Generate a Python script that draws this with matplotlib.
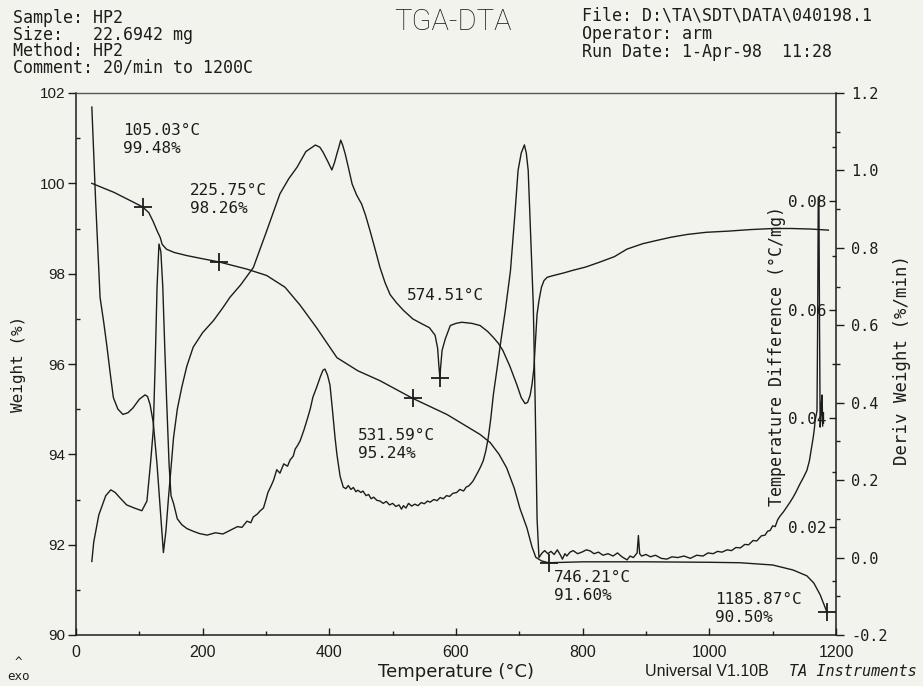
import matplotlib
matplotlib.use('Agg')
import matplotlib.pyplot as plt
from matplotlib.ticker import MultipleLocator, FixedLocator, FormatStrFormatter

# ---------------- data ----------------
# TGA weight curve (left axis, %)
weight_T = [25, 60, 105.03, 115, 122, 128, 133, 136, 143, 155,
            175, 200, 225.75, 270, 301, 330, 354, 380, 412, 445,
            480, 531.59, 586, 638, 654, 668, 680, 692, 701, 712,
            720, 726, 735, 746.21, 800, 900, 1000, 1048, 1100, 1132,
            1154, 1165, 1175, 1185.87]
weight_pct = [100.0, 99.8, 99.48, 99.35, 99.15, 98.95, 98.8, 98.65, 98.54, 98.47,
              98.4, 98.33, 98.26, 98.1, 97.96, 97.7, 97.3, 96.8, 96.14, 95.85,
              95.63, 95.24, 94.88, 94.44, 94.26, 94.0, 93.7, 93.25, 92.8, 92.37,
              91.95, 91.72, 91.64, 91.60, 91.62, 91.62, 91.61, 91.60, 91.55, 91.44,
              91.31, 91.15, 90.89, 90.50]

# DTA curve (inner right axis, degC/mg)
dta_T = [25, 31, 38, 44, 49, 54, 59, 66, 74, 82,
         90, 100, 109, 113, 117, 122, 128, 133, 138, 142,
         146, 150, 154, 160, 167, 175, 185, 200, 217, 232,
         243, 260, 280, 300, 322, 336, 349, 363, 378, 385,
         390, 397, 404, 408, 412, 415, 418, 421, 425, 430,
         436, 443, 451, 457, 464, 472, 480, 488, 496, 506,
         517, 532, 548, 558, 567, 571, 573, 574.5, 576, 578,
         583, 591, 600, 609, 625, 638, 650, 659, 667, 674,
         685, 696, 703, 709, 713, 717, 720, 723, 725, 728,
         731, 735, 739, 744, 753, 770, 785, 805, 827, 850,
         870, 895, 917, 940, 965, 995, 1028, 1065, 1101, 1130,
         1160, 1188]
dta_val = [0.0974, 0.0800, 0.0623, 0.0575, 0.0531, 0.0483, 0.0438, 0.0417, 0.0407, 0.0410,
           0.0419, 0.0435, 0.0443, 0.0440, 0.0425, 0.0392, 0.0314, 0.0233, 0.0152, 0.0192,
           0.0253, 0.0308, 0.0364, 0.0417, 0.0457, 0.0496, 0.0531, 0.0558, 0.0580, 0.0604,
           0.0623, 0.0646, 0.0678, 0.0742, 0.0814, 0.0842, 0.0863, 0.0892, 0.0904, 0.0900,
           0.0891, 0.0875, 0.0858, 0.0871, 0.0888, 0.0900, 0.0913, 0.0904, 0.0888, 0.0863,
           0.0832, 0.0812, 0.0795, 0.0775, 0.0747, 0.0713, 0.0678, 0.0650, 0.0628, 0.0613,
           0.0599, 0.0583, 0.0573, 0.0567, 0.0553, 0.0529, 0.0496, 0.0475, 0.0498, 0.0525,
           0.0546, 0.0571, 0.0575, 0.0577, 0.0575, 0.0571, 0.0560, 0.0549, 0.0538, 0.0525,
           0.0496, 0.0462, 0.0438, 0.0427, 0.0429, 0.0442, 0.0462, 0.0492, 0.0533, 0.0592,
           0.0617, 0.0642, 0.0654, 0.0660, 0.0663, 0.0668, 0.0673, 0.0679, 0.0688, 0.0698,
           0.0712, 0.0722, 0.0728, 0.0734, 0.0739, 0.0743, 0.0745, 0.0748, 0.0750, 0.0750,
           0.0749, 0.0747]

# Derivative weight curve (outer right axis, %/min)
deriv_T = [25, 28, 36, 47, 55, 62, 69, 80, 92, 104,
           112, 118, 122, 125, 128, 131, 134, 137, 140, 143,
           147, 150, 154, 160, 167, 175, 185, 195, 207, 220,
           232, 243, 255, 262, 270, 276, 280, 286, 291, 296,
           300, 303, 308, 312, 317, 322, 328, 334, 338, 343,
           346, 350, 354, 360, 366, 370, 374, 380, 386, 390,
           393, 397, 401, 405, 409, 412, 417, 422, 426, 430,
           434, 438, 442, 445, 450, 453, 458, 462, 466, 470,
           475, 480, 485, 490, 495, 500, 505, 510, 514, 517,
           521, 525, 530, 535, 540, 545, 550, 555, 559, 565,
           570, 575, 580, 585, 590, 595, 601, 606, 612, 616,
           620, 624, 627, 631, 635, 639, 643, 647, 651, 655,
           659, 665, 670, 678, 686, 693, 698, 703, 708, 711,
           714, 718, 722, 725, 728, 731, 736, 740, 745, 750,
           755, 760, 765, 768, 772, 775, 780, 785, 792, 800,
           806, 812, 818, 825, 832, 840, 848, 855, 862, 870,
           875, 880, 884, 886, 888, 890, 893, 900, 907, 915,
           924, 933, 941, 950, 960, 970, 980, 990, 998, 1006,
           1013, 1020, 1028, 1035, 1042, 1049, 1056, 1062, 1069, 1075,
           1082, 1088, 1092, 1096, 1100, 1104, 1108, 1112, 1117, 1122,
           1127, 1132, 1137, 1143, 1148, 1154, 1158, 1160, 1162, 1164,
           1166, 1167, 1169, 1170, 1171, 1172, 1173, 1174, 1175, 1176,
           1177, 1178, 1179]
deriv_val = [-0.010, 0.040, 0.110, 0.160, 0.175, 0.168, 0.155, 0.136, 0.128, 0.121,
             0.146, 0.250, 0.330, 0.500, 0.700, 0.810, 0.790, 0.700, 0.550, 0.410,
             0.240, 0.160, 0.140, 0.100, 0.085, 0.075, 0.068, 0.062, 0.058, 0.064,
             0.061, 0.070, 0.080, 0.078, 0.094, 0.090, 0.105, 0.112, 0.121, 0.128,
             0.150, 0.168, 0.185, 0.200, 0.227, 0.218, 0.242, 0.236, 0.252, 0.262,
             0.280, 0.290, 0.302, 0.330, 0.362, 0.385, 0.414, 0.440, 0.468, 0.484,
             0.487, 0.472, 0.446, 0.380, 0.310, 0.266, 0.210, 0.182, 0.178, 0.186,
             0.176, 0.181, 0.170, 0.174, 0.168, 0.172, 0.160, 0.163, 0.152, 0.156,
             0.148, 0.146, 0.140, 0.145, 0.136, 0.140, 0.132, 0.136, 0.125, 0.134,
             0.128, 0.140, 0.133, 0.138, 0.134, 0.142, 0.139, 0.146, 0.143, 0.150,
             0.147, 0.155, 0.152, 0.160, 0.158, 0.166, 0.168, 0.176, 0.172, 0.182,
             0.185, 0.192, 0.198, 0.210, 0.222, 0.235, 0.250, 0.275, 0.310, 0.360,
             0.421, 0.490, 0.550, 0.640, 0.741, 0.887, 1.000, 1.045, 1.066, 1.045,
             1.000, 0.827, 0.654, 0.400, 0.100, 0.000, 0.012, 0.018, 0.010, 0.016,
             0.008, 0.020, 0.006, -0.004, 0.010, 0.004, 0.014, 0.018, 0.010, 0.015,
             0.020, 0.017, 0.010, 0.014, 0.006, 0.010, 0.004, 0.012, 0.002, -0.006,
             0.004, 0.000, 0.008, 0.012, 0.057, 0.010, 0.004, 0.008, 0.002, 0.006,
             -0.002, -0.004, 0.002, 0.000, 0.004, -0.002, 0.006, 0.004, 0.012, 0.010,
             0.016, 0.014, 0.020, 0.018, 0.026, 0.025, 0.034, 0.033, 0.044, 0.043,
             0.056, 0.058, 0.068, 0.070, 0.082, 0.080, 0.098, 0.108, 0.118, 0.130,
             0.142, 0.155, 0.170, 0.190, 0.205, 0.225, 0.250, 0.270, 0.290, 0.310,
             0.335, 0.354, 0.370, 0.380, 0.600, 0.930, 0.930, 0.600, 0.337, 0.360,
             0.400, 0.420, 0.340]

# Marked points and their labels
mark_T = [105.03, 225.75, 531.59, 746.21, 1185.87]
mark_pct = [99.48, 98.26, 95.24, 91.60, 90.50]
mark_labels = ["105.03°C\n99.48%", "225.75°C\n98.26%", "531.59°C\n95.24%",
               "746.21°C\n91.60%", "1185.87°C\n90.50%"]
label_pos_T = [74, 180, 445, 754, 1009]
label_pos_pct = [100.96, 99.65, 94.22, 91.08, 90.59]
dta_mark_T = 574.51
dta_mark_val = 0.0475
dta_mark_label = "574.51°C"
dta_label_pos = (523, 97.52)

header_left = ["Sample: HP2", "Size:   22.6942 mg", "Method: HP2",
               "Comment: 20/min to 1200C"]
header_right = ["File: D:\\TA\\SDT\\DATA\\040198.1", "Operator: arm",
                "Run Date: 1-Apr-98  11:28"]
title = "TGA-DTA"

# ---------------- figure ----------------
W, H = 923, 686
bg = '#f3f3ee'
ink = '#1c1c1c'
mono = 'DejaVu Sans Mono'

fig = plt.figure(figsize=(W / 100, H / 100), dpi=100)
fig.patch.set_facecolor(bg)

ax1 = fig.add_axes([76 / W, 1 - 635 / H, 760 / W, 542 / H])
ax1.set_facecolor(bg)
ax2 = ax1.twinx()
ax3 = ax1.twinx()
for a in (ax2, ax3):
    a.patch.set_visible(False)

ax1.plot(weight_T, weight_pct, color=ink, lw=1.0)
ax3.plot(dta_T, dta_val, color=ink, lw=1.0)
ax2.plot(deriv_T, deriv_val, color=ink, lw=1.0)

ax1.plot(mark_T, mark_pct, ls='none', marker='+', ms=13, mew=1.3, color=ink)
ax3.plot([dta_mark_T], [dta_mark_val], ls='none', marker='+', ms=13, mew=1.3, color=ink)

for lab, tx, ty in zip(mark_labels, label_pos_T, label_pos_pct):
    ax1.text(tx, ty, lab, family=mono, fontsize=11.5, color=ink,
             ha='left', va='center', linespacing=1.25)
ax1.text(dta_label_pos[0], dta_label_pos[1], dta_mark_label, family=mono,
         fontsize=11.5, color=ink, ha='left', va='center')

ax1.set_xlim(0, 1200)
ax1.set_ylim(90, 102)
ax2.set_ylim(-0.2, 1.2)
ax3.set_ylim(0, 0.1)

# spines
for a in (ax1, ax2, ax3):
    for s in a.spines.values():
        s.set_color(ink)
        s.set_linewidth(1.1)
ax1.spines['right'].set_visible(False)
ax3.spines['right'].set_visible(False)
for s in ('top', 'left', 'bottom'):
    ax2.spines[s].set_visible(False)
    ax3.spines[s].set_visible(False)
ax1.spines['top'].set_color('#555555')
ax1.spines['top'].set_linewidth(1.0)

# x axis
ax1.xaxis.set_major_locator(MultipleLocator(200))
ax1.xaxis.set_minor_locator(MultipleLocator(100))
ax1.tick_params(axis='x', which='major', direction='in', length=5, width=1,
                color=ink, pad=7, labelsize=11.5, labelcolor=ink)
ax1.tick_params(axis='x', which='minor', direction='in', length=3, width=1, color=ink)
for t in ax1.get_xticklabels():
    t.set_family('Liberation Sans')

# left axis
ax1.yaxis.set_major_locator(MultipleLocator(2))
ax1.yaxis.set_minor_locator(MultipleLocator(1))
ax1.tick_params(axis='y', which='major', direction='out', length=6, width=1,
                color=ink, pad=2, labelsize=11, labelcolor=ink)
ax1.tick_params(axis='y', which='minor', direction='in', length=3, width=1, color=ink)
for t in ax1.get_yticklabels():
    t.set_family('Liberation Sans')

# deriv axis (outer right)
ax2.yaxis.set_major_locator(MultipleLocator(0.2))
ax2.yaxis.set_minor_locator(MultipleLocator(0.1))
ax2.yaxis.set_major_formatter(FormatStrFormatter('%.1f'))
ax2.tick_params(axis='y', which='major', direction='out', length=6, width=1,
                color=ink, pad=5, labelsize=11, labelcolor=ink)
ax2.tick_params(axis='y', which='minor', direction='out', length=3, width=1, color=ink)
for t in ax2.get_yticklabels():
    t.set_family(mono)

# DTA axis (inner right)
ax3.yaxis.set_major_locator(FixedLocator([0.02, 0.04, 0.06, 0.08]))
ax3.yaxis.set_minor_locator(FixedLocator([0.01, 0.03, 0.05, 0.07, 0.09]))
ax3.yaxis.set_major_formatter(FormatStrFormatter('%.2f'))
ax3.tick_params(axis='y', which='major', direction='in', length=5, width=1,
                color=ink, pad=-6.5, labelsize=11.5, labelcolor=ink)
ax3.tick_params(axis='y', which='minor', direction='in', length=3, width=1, color=ink)

# axis labels
ax1.set_xlabel('Temperature (°C)', fontsize=13, family='DejaVu Sans', color=ink)
ax1.xaxis.set_label_coords(0.5, -0.052)
ax1.set_ylabel('Weight (%)', fontsize=11.5, family=mono, color=ink)
ax1.yaxis.set_label_coords(-0.066, 0.5)
fig.text(777 / W, 1 - 356 / H, 'Temperature Difference (°C/mg)', rotation=90,
         ha='center', va='center', fontsize=12, family=mono, color=ink)
fig.text(902 / W, 1 - 360 / H, 'Deriv Weight (%/min)', rotation=90,
         ha='center', va='center', fontsize=12.5, family=mono, color=ink)

# header
for i, line in enumerate(header_left):
    fig.text(13 / W, 1 - (18 + 16.5 * i) / H, line, ha='left', va='center',
             fontsize=12, family=mono, color=ink)
for i, line in enumerate(header_right):
    fig.text(582 / W, 1 - (16 + 18 * i) / H, line, ha='left', va='center',
             fontsize=12, family=mono, color=ink)
fig.text(453 / W, 1 - 22 / H, title, ha='center', va='center', fontsize=21,
         family='Roboto', fontweight='light', color=ink)

# footer
fig.text(18 / W, 1 - 663 / H, '^', ha='center', va='center', fontsize=9,
         family=mono, color=ink)
fig.text(18 / W, 1 - 677 / H, 'exo', ha='center', va='center', fontsize=9,
         family=mono, color=ink)
fig.text(645 / W, 1 - 672 / H, 'Universal V1.10B', ha='left', va='center',
         fontsize=11.5, family='Liberation Sans', color=ink)
fig.text(789 / W, 1 - 672 / H, 'TA Instruments', ha='left', va='center',
         fontsize=11, family=mono, style='italic', color=ink)

fig.canvas.draw()
for t in ax3.get_yticklabels():
    t.set_horizontalalignment('right')
    t.set_family(mono)

fig.savefig('out.png', dpi=100, facecolor=bg)
